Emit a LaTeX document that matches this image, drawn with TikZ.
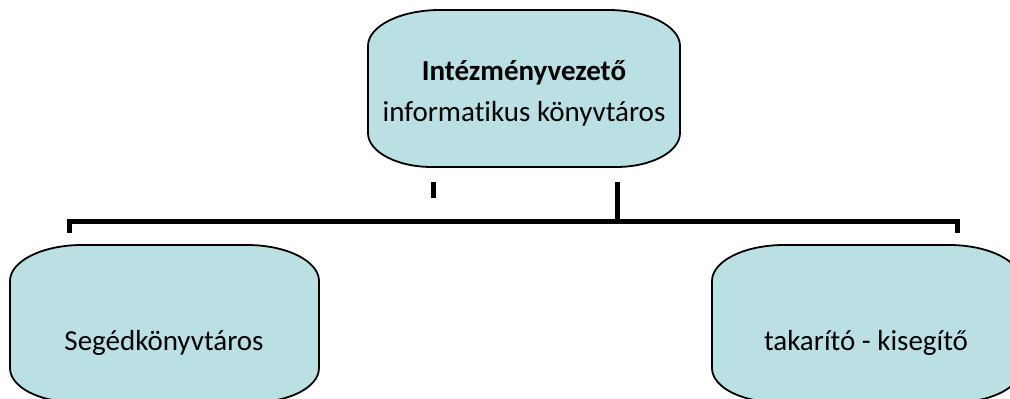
\documentclass[tikz,border=0pt]{standalone}
\usepackage{fontspec}
\setmainfont{Carlito}[Ligatures={NoCommon}]
\definecolor{boxfill}{RGB}{186,224,228}
\tikzset{
  orgbox/.style={draw=black, line width=1.8pt, fill=boxfill},
  orgtext/.style={inner sep=0pt, font=\fontsize{29}{34}\selectfont, text=black},
  bar/.style={line width=5pt, draw=black}
}
\newcommand{\ovalbox}[4]{% x1 y1 x2 y2 (y1 bottom)
  \path[orgbox] (#1,#2+34) -- (#1,#4-36)
    arc[start angle=180,end angle=90,x radius=72,y radius=36] -- (#3-72,#4)
    arc[start angle=90,end angle=0,x radius=72,y radius=36] -- (#3,#2+34)
    arc[start angle=0,end angle=-90,x radius=64,y radius=34] -- (#1+64,#2)
    arc[start angle=270,end angle=180,x radius=64,y radius=34] -- cycle;}
\begin{document}
\begin{tikzpicture}[x=1pt,y=1pt]
\useasboundingbox (0,0) rectangle (1010,399);
\begin{scope}
\clip (0,0) rectangle (1010,399);
\ovalbox{368}{232}{680}{389}
\ovalbox{10}{-3}{319}{154}
\ovalbox{712}{-3}{1021}{154}
\end{scope}
\node[orgtext, font=\fontsize{29}{34}\selectfont\bfseries] (head) at (524,326) {Intézményvezető};
\node[orgtext] (headsub) at (524,285) {informatikus könyvtáros};
\node[orgtext] (seged) at (164,56) {Segédkönyvtáros};
\node[orgtext] (takar) at (866,56) {takarító - kisegítő};
% connectors
\coordinate (tickA) at (433,217);
\coordinate (tickB) at (433,201);
\coordinate (stemTop) at (617,217);
\coordinate (stemBot) at (617,177);
\coordinate (barL) at (67,177);
\coordinate (barR) at (959,177);
\coordinate (legL) at (69,166);
\coordinate (legR) at (957,166);
\draw[bar] (tickA) -- (tickB);
\draw[bar] (stemTop) -- (stemBot);
\draw[bar] (legL) -- (legL |- barL) -- (legR |- barR) -- (legR);
\end{tikzpicture}
\end{document}
